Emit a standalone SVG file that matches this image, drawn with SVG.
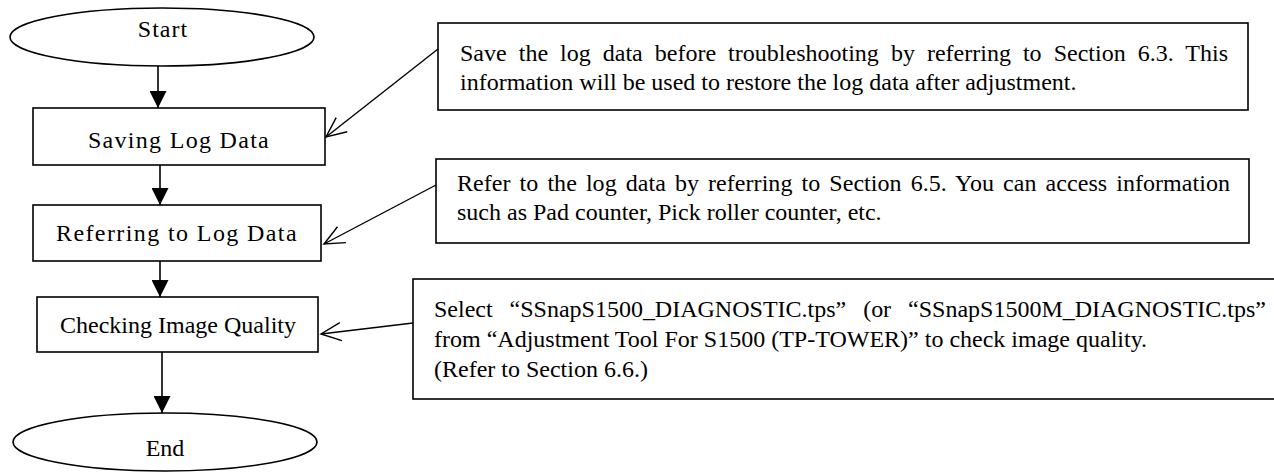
<svg xmlns="http://www.w3.org/2000/svg" width="1274" height="474" viewBox="0 0 1274 474">
<style>
.shape{fill:#fff;stroke:#000;stroke-width:1.6}
.lbl{font-family:"Liberation Serif","Times New Roman",serif;font-size:24px;fill:#000;text-anchor:middle}
.desc{font-family:"Liberation Serif","Times New Roman",serif;font-size:24px;fill:#000}
.flow{stroke:#000;stroke-width:1.6;fill:none;marker-end:url(#solid)}
.note{stroke:#000;stroke-width:1.4;fill:none;marker-end:url(#open)}
</style>
<defs>
<marker id="solid" markerUnits="userSpaceOnUse" viewBox="0 0 17 17" refX="17" refY="8.5" markerWidth="17" markerHeight="17" orient="auto">
<path d="M0,0 L17,8.5 L0,17 z" fill="#000"/>
</marker>
<marker id="open" markerUnits="userSpaceOnUse" viewBox="-2 -2 25 22" refX="20" refY="9" markerWidth="25" markerHeight="22" orient="auto">
<path d="M0,0 L20,9 L0,18" fill="none" stroke="#000" stroke-width="1.4"/>
</marker>
</defs>
<g id="connectors">
<line class="flow" x1="158" y1="66" x2="158" y2="108"/>
<line class="flow" x1="160" y1="165" x2="160" y2="205"/>
<line class="flow" x1="160" y1="261" x2="160" y2="297"/>
<line class="flow" x1="162" y1="352" x2="162" y2="413"/>
<line class="note" x1="438" y1="49" x2="326" y2="137"/>
<line class="note" x1="436" y1="185" x2="324" y2="244"/>
<line class="note" x1="413" y1="323" x2="321" y2="334"/>
</g>
<g id="start">
<ellipse class="shape" cx="162" cy="37" rx="152" ry="29"/>
<text class="lbl" x="163" y="37" letter-spacing="1">Start</text>
</g>
<g id="saving">
<rect class="shape" x="33" y="108" width="292" height="57"/>
<text class="lbl" x="179" y="148" letter-spacing="1.3">Saving Log Data</text>
</g>
<g id="referring">
<rect class="shape" x="33" y="205" width="288" height="56"/>
<text class="lbl" x="177" y="241" letter-spacing="1.4">Referring to Log Data</text>
</g>
<g id="checking">
<rect class="shape" x="37" y="297" width="281" height="55"/>
<text class="lbl" x="178" y="333">Checking Image Quality</text>
</g>
<g id="end">
<ellipse class="shape" cx="165" cy="442" rx="152" ry="29"/>
<text class="lbl" x="165" y="456">End</text>
</g>
<g id="note1">
<rect class="shape" x="438" y="23" width="810" height="87"/>
<text class="desc" x="460" y="61" textLength="768" lengthAdjust="spacing" word-spacing="6">Save the log data before troubleshooting by referring to Section 6.3. This</text>
<text class="desc" x="460" y="90">information will be used to restore the log data after adjustment.</text>
</g>
<g id="note2">
<rect class="shape" x="436" y="159" width="813" height="84"/>
<text class="desc" x="457" y="191" textLength="773" lengthAdjust="spacing" word-spacing="3">Refer to the log data by referring to Section 6.5. You can access information</text>
<text class="desc" x="457" y="220">such as Pad counter, Pick roller counter, etc.</text>
</g>
<g id="note3">
<rect class="shape" x="413" y="279" width="880" height="120"/>
<text class="desc" x="434" y="317" textLength="832" lengthAdjust="spacing" word-spacing="11">Select “SSnapS1500_DIAGNOSTIC.tps” (or “SSnapS1500M_DIAGNOSTIC.tps”</text>
<text class="desc" x="434" y="347">from “Adjustment Tool For S1500 (TP-TOWER)” to check image quality.</text>
<text class="desc" x="434" y="377">(Refer to Section 6.6.)</text>
</g>
</svg>
